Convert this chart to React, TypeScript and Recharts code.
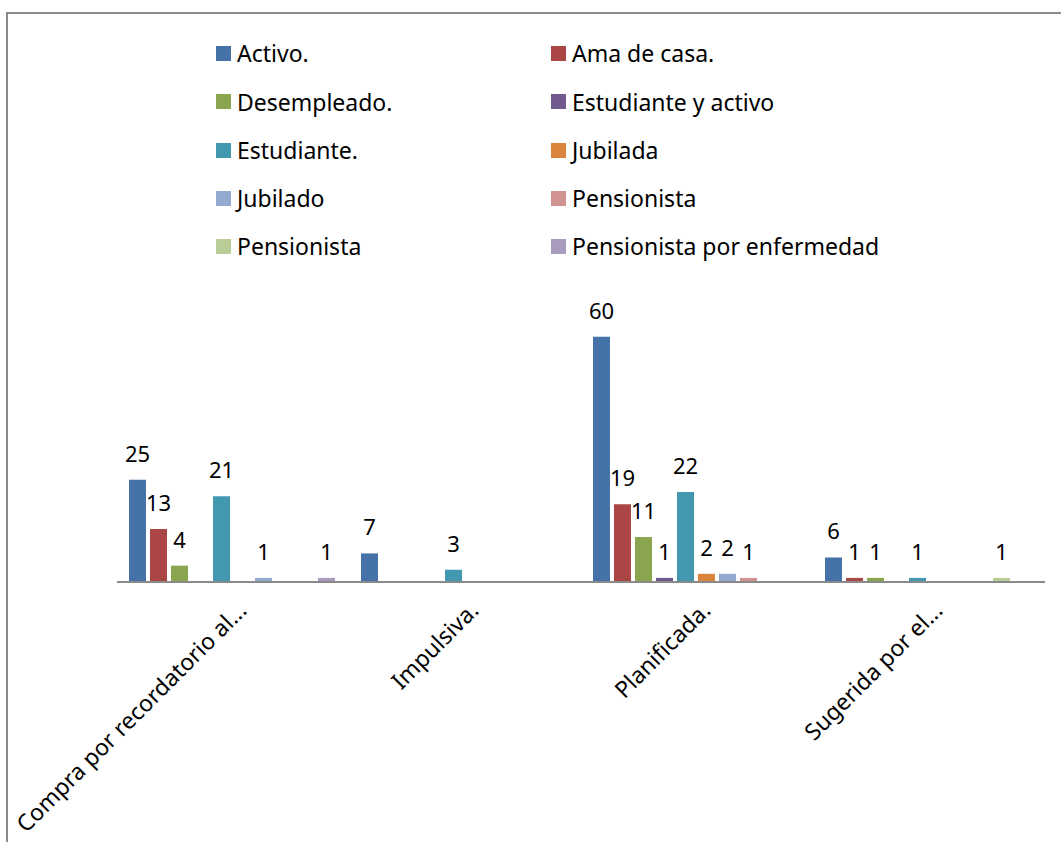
import { Bar, BarChart, LabelList, XAxis, YAxis } from "recharts";

const categories = [
  "Compra por recordatorio al...",
  "Impulsiva.",
  "Planificada.",
  "Sugerida por el...",
];

const seriesNames = [
  "Activo.",
  "Ama de casa.",
  "Desempleado.",
  "Estudiante y activo",
  "Estudiante.",
  "Jubilada",
  "Jubilado",
  "Pensionista",
  "Pensionista",
  "Pensionista por enfermedad",
];

const seriesColors = [
  "#4572A7",
  "#AA4643",
  "#89A54E",
  "#71588F",
  "#4198AF",
  "#DB843D",
  "#93A9CF",
  "#D19392",
  "#B9CD96",
  "#A99BBD",
];

// one array per series, in category order (null = no bar)
const activo = [25, 7, 60, 6];
const amaDeCasa = [13, null, 19, 1];
const desempleado = [4, null, 11, 1];
const estudianteYActivo = [null, null, 1, null];
const estudiante = [21, 3, 22, 1];
const jubilada = [null, null, 2, null];
const jubilado = [1, null, 2, null];
const pensionista = [null, null, 1, null];
const pensionista2 = [null, null, null, 1];
const pensionistaEnfermedad = [1, null, null, null];

const seriesValues = [
  activo,
  amaDeCasa,
  desempleado,
  estudianteYActivo,
  estudiante,
  jubilada,
  jubilado,
  pensionista,
  pensionista2,
  pensionistaEnfermedad,
];

const chartData = categories.map((name, i) => {
  const row: Record<string, string | number | null> = { name };
  seriesValues.forEach((values, s) => {
    row[`s${s}`] = values[i];
  });
  return row;
});

const FONT = "'Noto Sans', 'Open Sans', sans-serif";

function ValueLabel(props: any) {
  const { x, y, width, value } = props;
  if (value == null) return null;
  return (
    <text x={x + width / 2} y={y - 18} textAnchor="middle" fontSize={22} fontFamily={FONT} fill="#000">
      {value}
    </text>
  );
}

function CategoryTick(props: any) {
  const { x, y, payload } = props;
  const ax = x + 15;
  const ay = y + 22;
  return (
    <text
      x={ax}
      y={ay}
      textAnchor="end"
      fontSize={23}
      fontFamily={FONT}
      fill="#000"
      transform={`rotate(-45 ${ax} ${ay})`}
    >
      {payload.value}
    </text>
  );
}

const legendRows = [53, 101.5, 150, 198, 246];
const legendCols = [216, 551];

export default function App() {
  return (
    <div style={{ position: "absolute", left: 0, top: 0, width: 1061, height: 842, background: "#fff", overflow: "hidden" }}>
      <div
        style={{
          position: "absolute",
          left: 6,
          top: 12,
          width: 1070,
          height: 850,
          border: "2px solid #8a8a8a",
          boxSizing: "border-box",
        }}
      />
      <div style={{ position: "absolute", left: 0, top: 0 }}>
        <BarChart
          width={1061}
          height={842}
          data={chartData}
          margin={{ top: 296, right: 16, bottom: 0, left: 117 }}
          barCategoryGap={12}
          barGap={4}
        >
          <XAxis
            dataKey="name"
            axisLine={{ stroke: "#8a8a8a", strokeWidth: 2 }}
            tickLine={false}
            tick={<CategoryTick />}
            interval={0}
            height={260}
          />
          <YAxis hide domain={[0, 70]} />
          {seriesNames.map((name, s) => (
            <Bar key={s} dataKey={`s${s}`} name={name} fill={seriesColors[s]} isAnimationActive={false}>
              <LabelList dataKey={`s${s}`} content={<ValueLabel />} />
            </Bar>
          ))}
        </BarChart>
      </div>
      {seriesNames.map((name, s) => {
        const col = s % 2;
        const row = Math.floor(s / 2);
        return (
          <div
            key={s}
            style={{
              position: "absolute",
              left: legendCols[col],
              top: legendRows[row] - 16,
              height: 32,
              display: "flex",
              alignItems: "center",
              fontFamily: FONT,
              fontSize: 23,
              color: "#000",
              whiteSpace: "nowrap",
            }}
          >
            <span style={{ display: "inline-block", width: 15, height: 15, background: seriesColors[s], marginRight: 6 }} />
            {name}
          </div>
        );
      })}
    </div>
  );
}
